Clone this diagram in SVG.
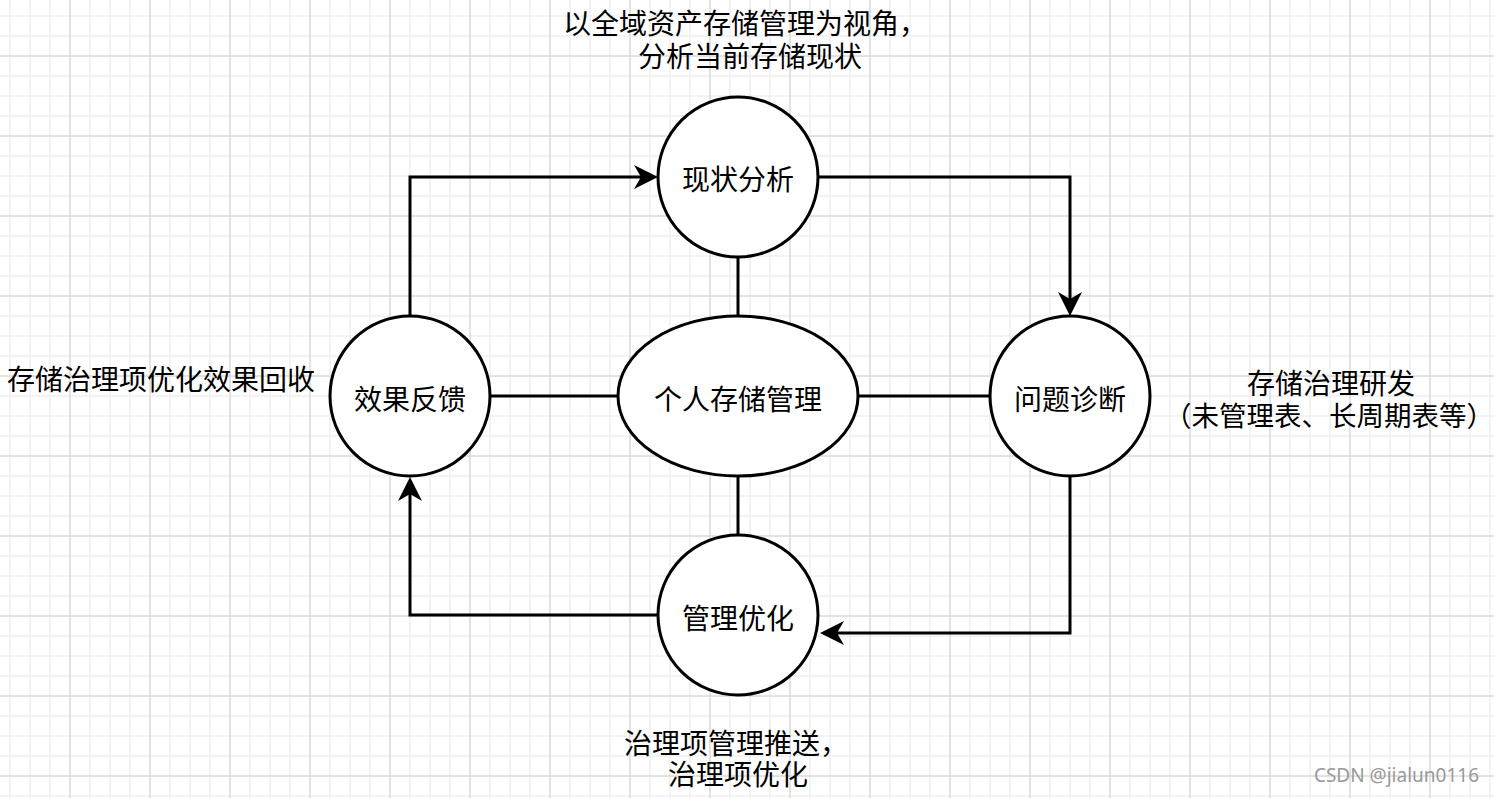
<svg xmlns="http://www.w3.org/2000/svg" width="1494" height="798" viewBox="0 0 1494 798">
<style>
.node{fill:#fff;stroke:#000;stroke-width:3}
.edge{fill:none;stroke:#000;stroke-width:3}
.lbl{font-family:"Noto Sans CJK SC","Noto Sans",sans-serif;font-size:28px;fill:#000;text-anchor:middle;dominant-baseline:central}
.wm{font-family:"Noto Sans","Open Sans",sans-serif;font-size:19px;fill:#999;text-anchor:end}
</style>
<defs>
<pattern id="minor" patternUnits="userSpaceOnUse" x="0" y="6" width="20" height="20">
<path d="M10 0V20M0 10H20" stroke="#f0f0f0" stroke-width="1.5" fill="none"/>
</pattern>
<pattern id="major" patternUnits="userSpaceOnUse" x="30" y="16" width="80" height="80">
<path d="M40 0V80M0 40H80" stroke="#d2d2d2" stroke-width="1" fill="none"/>
</pattern>
<marker id="arr" markerUnits="userSpaceOnUse" markerWidth="26" markerHeight="26" viewBox="0 -13 26 26" refX="7" refY="0" orient="auto">
<path d="M0,-12L24,0L0,12L7,0Z" fill="#000"/>
</marker>
</defs>
<rect width="1494" height="798" fill="#fff"/>
<rect width="1494" height="798" fill="url(#minor)"/>
<rect width="1494" height="798" fill="url(#major)"/>
<g id="connectors">
<path class="edge" d="M738,257V316"/>
<path class="edge" d="M738,476V535"/>
<path class="edge" d="M490,396H618"/>
<path class="edge" d="M858,396H990"/>
<path class="edge" d="M410,316V177H641" marker-end="url(#arr)"/>
<path class="edge" d="M818,177H1070V299" marker-end="url(#arr)"/>
<path class="edge" d="M1070,476V633H837" marker-end="url(#arr)"/>
<path class="edge" d="M658,615H410V494" marker-end="url(#arr)"/>
</g>
<g id="node-xianzhuang">
<circle class="node" cx="738" cy="177" r="80"/>
<text class="lbl" x="738" y="178">现状分析</text>
</g>
<g id="node-center">
<ellipse class="node" cx="738" cy="396" rx="120" ry="80"/>
<text class="lbl" x="738" y="398">个人存储管理</text>
</g>
<g id="node-wenti">
<circle class="node" cx="1070" cy="396" r="80"/>
<text class="lbl" x="1070" y="398">问题诊断</text>
</g>
<g id="node-xiaoguo">
<circle class="node" cx="410" cy="396" r="80"/>
<text class="lbl" x="410" y="398">效果反馈</text>
</g>
<g id="node-guanli">
<circle class="node" cx="738" cy="615" r="80"/>
<text class="lbl" x="738" y="617">管理优化</text>
</g>
<g id="note-top">
<text class="lbl" x="745" y="22">以全域资产存储管理为视角，</text>
<text class="lbl" x="750" y="55">分析当前存储现状</text>
</g>
<g id="note-left">
<text class="lbl" x="161" y="378">存储治理项优化效果回收</text>
</g>
<g id="note-right">
<text class="lbl" x="1331" y="382">存储治理研发</text>
<text class="lbl" x="1329" y="414" style="font-size:27.5px">（未管理表、长周期表等）</text>
</g>
<g id="note-bottom">
<text class="lbl" x="736" y="742">治理项管理推送，</text>
<text class="lbl" x="738" y="773">治理项优化</text>
</g>
<text class="wm" x="1479" y="782">CSDN @jialun0116</text>
</svg>
